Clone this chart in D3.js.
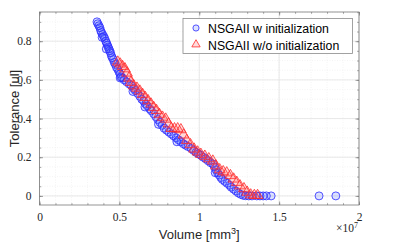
<!DOCTYPE html>
<html>
<head>
<meta charset="utf-8">
<script src="https://cdn.jsdelivr.net/npm/d3@7"></script>
<style>
    body { margin: 0; background: #fff; }
    .tickText { font-family: "Liberation Serif", "DejaVu Serif", serif; font-size: 11.5px; fill: #262626; }
    .axisLabel { font-family: "Liberation Sans", Arial, sans-serif; font-size: 13px; fill: #262626; }
    .legendText { font-family: "Liberation Sans", Arial, sans-serif; font-size: 12.3px; fill: #000; }
</style>
</head>
<body>
<div id="chart"></div>
<script>
// Data (volume in 1e7 mm^3, tolerance in ul)
// ============================================
var withInitVolume = [0.360, 0.365, 0.372, 0.378, 0.383, 0.388, 0.395, 0.402, 0.408, 0.415,
    0.420, 0.425, 0.430, 0.435, 0.440, 0.445, 0.450, 0.455, 0.462, 0.468,
    0.475, 0.482, 0.490, 0.498, 0.505, 0.510, 0.520, 0.530, 0.545, 0.560,
    0.575, 0.590, 0.600, 0.615, 0.628, 0.640, 0.652, 0.665, 0.675, 0.690,
    0.700, 0.715, 0.728, 0.740, 0.755, 0.768, 0.780, 0.795, 0.810, 0.825,
    0.840, 0.855, 0.870, 0.885, 0.900, 0.915, 0.930, 0.950, 0.965, 0.980,
    0.995, 1.010, 1.025, 1.040, 1.055, 1.070, 1.085, 1.095, 1.105, 1.115,
    1.125, 1.135, 1.145, 1.160, 1.175, 1.190, 1.200, 1.215, 1.230, 1.245,
    1.260, 1.275, 1.290, 1.310, 1.330, 1.360, 1.380, 1.400, 1.420, 1.450,
    1.750, 1.855, 0.392, 0.418, 0.505, 0.585, 0.660, 0.745, 0.860, 1.100];
var withInitTolerance = [0.900, 0.890, 0.880, 0.870, 0.855, 0.845, 0.835, 0.825, 0.815, 0.800,
    0.790, 0.780, 0.770, 0.760, 0.750, 0.740, 0.725, 0.715, 0.705, 0.690,
    0.680, 0.665, 0.655, 0.640, 0.630, 0.615, 0.610, 0.600, 0.590, 0.580,
    0.570, 0.555, 0.545, 0.530, 0.515, 0.500, 0.490, 0.475, 0.465, 0.450,
    0.440, 0.425, 0.410, 0.395, 0.380, 0.365, 0.350, 0.340, 0.330, 0.320,
    0.310, 0.300, 0.290, 0.280, 0.270, 0.262, 0.255, 0.245, 0.235, 0.225,
    0.218, 0.210, 0.200, 0.192, 0.182, 0.172, 0.165, 0.150, 0.135, 0.120,
    0.108, 0.095, 0.085, 0.075, 0.065, 0.055, 0.045, 0.035, 0.025, 0.015,
    0.008, 0.003, 0.001, 0.000, 0.000, 0.000, 0.000, 0.000, 0.000, 0.000,
    0.000, 0.000, 0.820, 0.760, 0.610, 0.540, 0.460, 0.370, 0.280, 0.120];

var withoutInitVolume = [0.490, 0.505, 0.520, 0.535, 0.548, 0.560, 0.572, 0.590,
    0.610, 0.628, 0.645, 0.662, 0.680, 0.698, 0.715, 0.732,
    0.750, 0.770, 0.790, 0.808, 0.825, 0.845, 0.865, 0.885, 0.902,
    0.922, 0.945, 0.968, 0.990, 1.010, 1.035, 1.060, 1.085, 1.105,
    1.128, 1.150, 1.172, 1.195, 1.215, 1.235, 1.255, 1.280,
    1.300, 1.322, 1.345, 1.365];
var withoutInitTolerance = [0.695, 0.685, 0.672, 0.660, 0.638, 0.612, 0.590, 0.572,
    0.560, 0.545, 0.528, 0.512, 0.495, 0.478, 0.460, 0.445,
    0.425, 0.410, 0.400, 0.375, 0.352, 0.350, 0.350, 0.345, 0.318,
    0.290, 0.268, 0.245, 0.230, 0.218, 0.208, 0.195, 0.183, 0.158,
    0.138, 0.128, 0.122, 0.108, 0.090, 0.073, 0.055, 0.040,
    0.022, 0.008, 0.005, 0.005];

var seriesNames = ["NSGAII w initialization", "NSGAII w/o initialization"];
var xTickValues = [0, 0.5, 1, 1.5, 2];
var xTickLabels = ["0", "0.5", "1", "1.5", "2"];
var yTickValues = [0, 0.2, 0.4, 0.6, 0.8];
var yTickLabels = ["0", "0.2", "0.4", "0.6", "0.8"];

// Set up the chart
// ================================
var svgWidth = 399;
var svgHeight = 242;

var margin = { top: 12, right: 40, bottom: 37, left: 39.5 };
var chartWidth = svgWidth - margin.left - margin.right;
var chartHeight = svgHeight - margin.top - margin.bottom;

var svg = d3.select("#chart")
    .append("svg")
    .attr("width", svgWidth)
    .attr("height", svgHeight);

var chartGroup = svg.append("g")
    .attr("transform", `translate(${margin.left}, ${margin.top})`);

// Scales
// ================================
var xScale = d3.scaleLinear().domain([0, 2]).range([0, chartWidth]);
var yScale = d3.scaleLinear().domain([-0.047, 0.951]).range([chartHeight, 0]);

var xMinor = d3.range(0, 2.0001, 0.1);
var yMinor = d3.range(0, 0.9501, 0.05);

// Grid lines (minor dotted, major solid)
// ================================
var grid = chartGroup.append("g");

grid.selectAll(".xMinorGrid")
    .data(xMinor)
    .enter()
    .append("line")
    .attr("x1", d => xScale(d))
    .attr("x2", d => xScale(d))
    .attr("y1", 0)
    .attr("y2", chartHeight)
    .attr("stroke", "#ececec")
    .attr("stroke-width", 0.6)
    .attr("stroke-dasharray", "1,1.5");

grid.selectAll(".yMinorGrid")
    .data(yMinor)
    .enter()
    .append("line")
    .attr("x1", 0)
    .attr("x2", chartWidth)
    .attr("y1", d => yScale(d))
    .attr("y2", d => yScale(d))
    .attr("stroke", "#ececec")
    .attr("stroke-width", 0.6)
    .attr("stroke-dasharray", "1,1.5");

grid.selectAll(".xGrid")
    .data(xTickValues)
    .enter()
    .append("line")
    .attr("x1", d => xScale(d))
    .attr("x2", d => xScale(d))
    .attr("y1", 0)
    .attr("y2", chartHeight)
    .attr("stroke", "#e3e3e3")
    .attr("stroke-width", 0.8);

grid.selectAll(".yGrid")
    .data(yTickValues)
    .enter()
    .append("line")
    .attr("x1", 0)
    .attr("x2", chartWidth)
    .attr("y1", d => yScale(d))
    .attr("y2", d => yScale(d))
    .attr("stroke", "#e3e3e3")
    .attr("stroke-width", 0.8);

// Axes with inward ticks on all four sides
// ================================
var axisColor = "#7a7a7a";

function styleAxis(g) {
    g.select(".domain").remove();
    g.selectAll(".tick line").attr("stroke", axisColor).attr("stroke-width", 0.7);
}

chartGroup.append("g")
    .attr("transform", `translate(0, ${chartHeight})`)
    .call(d3.axisBottom(xScale).tickValues(xMinor).tickSize(-1.8).tickFormat(""))
    .call(styleAxis);
chartGroup.append("g")
    .call(d3.axisTop(xScale).tickValues(xMinor).tickSize(-1.8).tickFormat(""))
    .call(styleAxis);
chartGroup.append("g")
    .call(d3.axisLeft(yScale).tickValues(yMinor).tickSize(-1.8).tickFormat(""))
    .call(styleAxis);
chartGroup.append("g")
    .attr("transform", `translate(${chartWidth}, 0)`)
    .call(d3.axisRight(yScale).tickValues(yMinor).tickSize(-1.8).tickFormat(""))
    .call(styleAxis);

var xAxis = chartGroup.append("g")
    .attr("transform", `translate(0, ${chartHeight})`)
    .call(d3.axisBottom(xScale).tickValues(xTickValues).tickSize(-3.5).tickPadding(8)
        .tickFormat((d, i) => xTickLabels[i]))
    .call(styleAxis);
chartGroup.append("g")
    .call(d3.axisTop(xScale).tickValues(xTickValues).tickSize(-3.5).tickFormat(""))
    .call(styleAxis);
var yAxis = chartGroup.append("g")
    .call(d3.axisLeft(yScale).tickValues(yTickValues).tickSize(-3.5).tickPadding(8)
        .tickFormat((d, i) => yTickLabels[i]))
    .call(styleAxis);
chartGroup.append("g")
    .attr("transform", `translate(${chartWidth}, 0)`)
    .call(d3.axisRight(yScale).tickValues(yTickValues).tickSize(-3.5).tickFormat(""))
    .call(styleAxis);

xAxis.selectAll("text").attr("class", "tickText").attr("font-family", null).attr("font-size", null);
yAxis.selectAll("text").attr("class", "tickText").attr("font-family", null).attr("font-size", null);

// Box
chartGroup.append("rect")
    .attr("width", chartWidth)
    .attr("height", chartHeight)
    .attr("fill", "none")
    .attr("stroke", axisColor)
    .attr("stroke-width", 0.8);

// Points
// ================================
var blueStroke = "#2b2bff";
var blueFill = "rgba(60, 90, 255, 0.18)";
var redStroke = "#ff2b2b";
var redFill = "rgba(255, 60, 60, 0.18)";

var circleSymbol = d3.symbol().type(d3.symbolCircle).size(50);
var triangleSymbol = d3.symbol().type(d3.symbolTriangle).size(50);

chartGroup.append("g")
    .selectAll("path")
    .data(d3.range(withInitVolume.length))
    .enter()
    .append("path")
    .attr("d", circleSymbol)
    .attr("transform", i => `translate(${xScale(withInitVolume[i])}, ${yScale(withInitTolerance[i])})`)
    .attr("fill", blueFill)
    .attr("stroke", blueStroke)
    .attr("stroke-width", 0.8);

chartGroup.append("g")
    .selectAll("path")
    .data(d3.range(withoutInitVolume.length))
    .enter()
    .append("path")
    .attr("d", triangleSymbol)
    .attr("transform", i => `translate(${xScale(withoutInitVolume[i])}, ${yScale(withoutInitTolerance[i]) + 0.5})`)
    .attr("fill", redFill)
    .attr("stroke", redStroke)
    .attr("stroke-width", 0.8);

// Axis labels
// ================================
var xLabel = svg.append("text")
    .attr("class", "axisLabel")
    .attr("x", margin.left + chartWidth / 2)
    .attr("y", 239)
    .attr("text-anchor", "middle");
xLabel.append("tspan").text("Volume [mm");
xLabel.append("tspan").attr("dy", -5).attr("font-size", "9px").text("3");
xLabel.append("tspan").attr("dy", 5).text("]");

svg.append("text")
    .attr("class", "axisLabel")
    .attr("transform", `translate(19, ${margin.top + chartHeight / 2}) rotate(-90)`)
    .attr("text-anchor", "middle")
    .text("Tolerance [ul]");

// x10^7 exponent label
var expLabel = svg.append("text")
    .attr("class", "tickText")
    .attr("x", 336)
    .attr("y", 232);
expLabel.append("tspan").text("×10");
expLabel.append("tspan").attr("dy", -4.5).attr("font-size", "8px").text("7");

// Legend
// ================================
var legend = svg.append("g")
    .attr("transform", "translate(183, 18.5)");

legend.append("rect")
    .attr("width", 169.5)
    .attr("height", 35)
    .attr("fill", "#fff")
    .attr("stroke", "#8a8a8a")
    .attr("stroke-width", 0.8);

legend.append("path")
    .attr("d", circleSymbol.size(30))
    .attr("transform", "translate(13, 9.5)")
    .attr("fill", blueFill)
    .attr("stroke", blueStroke)
    .attr("stroke-width", 0.8);

legend.append("path")
    .attr("d", triangleSymbol.size(30))
    .attr("transform", "translate(13, 26)")
    .attr("fill", redFill)
    .attr("stroke", redStroke)
    .attr("stroke-width", 0.8);

legend.selectAll(".legendText")
    .data(seriesNames)
    .enter()
    .append("text")
    .attr("class", "legendText")
    .attr("x", 25)
    .attr("y", (d, i) => 14.5 + i * 16.5)
    .text(d => d);
</script>
</body>
</html>
